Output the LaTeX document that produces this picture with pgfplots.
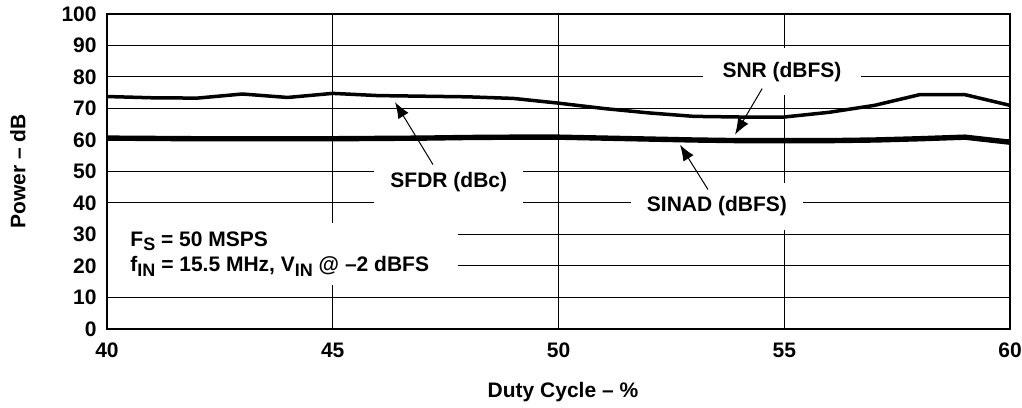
\documentclass[border=0pt]{standalone}
\usepackage{fontspec}
\setmainfont{Liberation Sans}
\usepackage{pgfplots}
\pgfplotsset{compat=1.18}
\usetikzlibrary{arrows.meta}
\newcommand{\sub}[1]{\raisebox{-2.3bp}{\fontsize{9bp}{9bp}\selectfont #1}}
\begin{document}
\fontsize{10.5bp}{12.5bp}\selectfont\bfseries
\begin{tikzpicture}
\useasboundingbox (-53.5bp,-39.5bp) rectangle (457.5bp,164.5bp);
\begin{axis}[
  at={(0,0)}, anchor=south west,
  scale only axis, width=451.5bp, height=157.5bp,
  xmin=40, xmax=60, ymin=0, ymax=100,
  xtick={40,45,50,55,60}, ytick={0,10,...,100},
  grid=major, major grid style={black, line width=0.5bp},
  axis line style={line width=1.1bp},
  tick style={draw=none},
  ticklabel style={font=\fontsize{10.5bp}{12.5bp}\selectfont\bfseries},
  /pgf/number format/assume math mode=true,
  xticklabel style={yshift=-3.3bp},
  yticklabel style={xshift=-1.5bp},
  xlabel={Duty Cycle -- \%}, ylabel={Power -- dB},
  label style={font=\fontsize{10.5bp}{12.5bp}\selectfont\bfseries},
  xlabel style={at={(axis description cs:0.505,-0.2)}, anchor=center},
  ylabel style={at={(axis description cs:-0.0986,0.5)}, anchor=center},
]
% SFDR (dBc)
\addplot[black, line width=1.75bp, line join=round] coordinates {
(40,73.8) (41,73.4) (42,73.3) (43,74.6) (44,73.5) (45,74.8) (46,74.1) (47,73.9)
(48,73.7) (49,73.2) (50,71.7) (51,70.0) (52,68.6) (53,67.5) (54,67.3) (55,67.3)
(56,68.8) (57,71.0) (58,74.4) (59,74.4) (60,71.0)};
% SNR (dBFS)
\addplot[black, line width=1.75bp, line join=round] coordinates {
(40,60.9) (41,60.8) (42,60.7) (43,60.7) (44,60.7) (45,60.7) (46,60.8) (47,60.9)
(48,61.1) (49,61.2) (50,61.2) (51,60.9) (52,60.6) (53,60.3) (54,60.1) (55,60.1)
(56,60.1) (57,60.3) (58,60.7) (59,61.2) (60,59.6)};
% SINAD (dBFS)
\addplot[black, line width=1.75bp, line join=round] coordinates {
(40,60.3) (41,60.2) (42,60.1) (43,60.1) (44,60.1) (45,60.1) (46,60.2) (47,60.3)
(48,60.5) (49,60.6) (50,60.6) (51,60.3) (52,60.0) (53,59.7) (54,59.5) (55,59.5)
(56,59.5) (57,59.7) (58,60.1) (59,60.6) (60,59.0)};

% white boxes with labels
\node[fill=white, inner xsep=8bp, inner ysep=6bp] at (axis cs:47.57,46.8) {SFDR (dBc)};
\node[fill=white, inner xsep=10bp, inner ysep=7bp] at (axis cs:54.95,81.7) {SNR (dBFS)};
\node[fill=white, inner xsep=8bp, inner ysep=7bp] at (axis cs:53.51,38.9) {SINAD (dBFS)};

\draw[line width=0.5bp, -{Latex[length=8bp,width=6bp]}] (axis cs:47.22,52.2) -- (axis cs:46.38,72.0);
\draw[line width=0.5bp, -{Latex[length=8bp,width=6bp]}] (axis cs:54.51,76.3) -- (axis cs:53.91,61.7);
\draw[line width=0.5bp, -{Latex[length=8bp,width=6bp]}] (axis cs:53.31,44.3) -- (axis cs:52.69,58.5);

\fill[white] (axis cs:40.03,14.1) rectangle (axis cs:47.77,33.8);
\node[anchor=base west, inner sep=0pt] at (axis cs:40.51,26.3) {F\sub{S} = 50 MSPS};
\node[anchor=base west, inner sep=0pt] at (axis cs:40.51,18.1) {f\sub{IN} = 15.5 MHz, V\sub{IN} @ --2 dBFS};
\end{axis}
\end{tikzpicture}
\end{document}
